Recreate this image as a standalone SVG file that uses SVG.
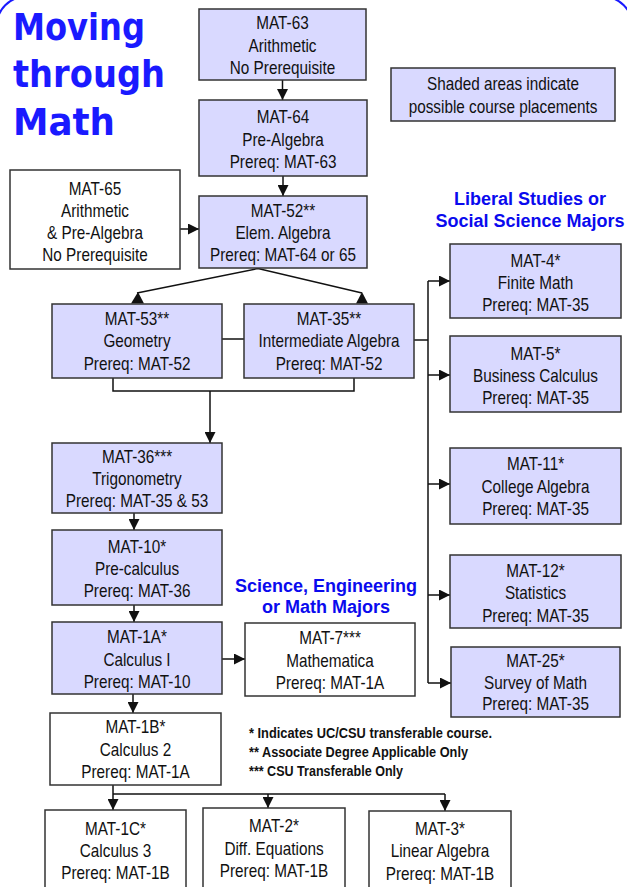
<svg xmlns="http://www.w3.org/2000/svg" width="627" height="887" viewBox="0 0 627 887">
<defs>
<marker id="ah" markerUnits="userSpaceOnUse" markerWidth="11" markerHeight="11" refX="11" refY="5.5" orient="auto">
<path d="M0,0 L11,5.5 L0,11 Z" fill="#111"/>
</marker>
<style>
.box{fill:#d9d9ff;stroke:#333;stroke-width:1.5}
.wbox{fill:#fff;stroke:#333;stroke-width:1.5}
.t{font-family:"Liberation Sans",Arial,sans-serif;font-size:18px;fill:#111;text-anchor:middle}
.c{fill:none;stroke:#111;stroke-width:1.5}
.ca{fill:none;stroke:#111;stroke-width:1.5;marker-end:url(#ah)}
.title{font-family:"DejaVu Sans","Liberation Sans",sans-serif;font-weight:bold;font-size:38px;fill:#1a1aff}
.hd{font-family:"Liberation Sans",Arial,sans-serif;font-weight:bold;font-size:18px;fill:#0a0aee;text-anchor:middle}
.fn{font-family:"Liberation Sans",Arial,sans-serif;font-weight:bold;font-size:14px;fill:#111}
</style>
</defs>
<rect width="627" height="887" fill="#fff"/>
<rect x="-3" y="-3" width="635" height="930" rx="28" fill="none" stroke="#1a1aff" stroke-width="2"/>

<g id="title">
<text class="title" x="13" y="40" textLength="132" lengthAdjust="spacingAndGlyphs">Moving</text>
<text class="title" x="13" y="87" textLength="152" lengthAdjust="spacingAndGlyphs">through</text>
<text class="title" x="13" y="135" textLength="102" lengthAdjust="spacingAndGlyphs">Math</text>
</g>

<g id="connectors">
<line class="ca" x1="282.5" y1="80" x2="282.5" y2="100"/>
<line class="ca" x1="283" y1="176" x2="283" y2="196"/>
<line class="ca" x1="180" y1="229" x2="199" y2="229"/>
<polyline class="c" points="137,293 258,268.5 362,293"/>
<polygon points="131,303.5 144,303.5 138,292" fill="#111"/>
<polygon points="356,303.5 368,303.5 362,292" fill="#111"/>
<line class="c" x1="222" y1="339" x2="244" y2="339"/>
<line class="c" x1="414" y1="340" x2="428" y2="340"/>
<line class="c" x1="428" y1="281" x2="428" y2="683"/>
<line class="ca" x1="428" y1="281" x2="450" y2="281"/>
<line class="ca" x1="428" y1="375" x2="450" y2="375"/>
<line class="ca" x1="428" y1="484" x2="450" y2="484"/>
<line class="ca" x1="428" y1="595" x2="450" y2="595"/>
<line class="ca" x1="428" y1="683" x2="451" y2="683"/>
<polyline class="c" points="113,378 113,391 354,391 354,378"/>
<line class="ca" x1="210" y1="391" x2="210" y2="443"/>
<line class="ca" x1="134" y1="513" x2="134" y2="530"/>
<line class="ca" x1="134" y1="605" x2="134" y2="622"/>
<line class="ca" x1="222" y1="659" x2="245" y2="659"/>
<line class="ca" x1="133" y1="694" x2="133" y2="713"/>
<line class="ca" x1="113" y1="785" x2="113" y2="810"/>
<line class="c" x1="113" y1="794" x2="445" y2="794"/>
<line class="ca" x1="268" y1="794" x2="268" y2="808"/>
<line class="ca" x1="445" y1="794" x2="445" y2="811"/>
</g>

<g id="mat63"><rect class="box" x="199" y="9" width="167" height="71"/>
<g transform="translate(282.5 0) scale(0.85 1)"><text class="t" x="0" y="29">MAT-63</text><text class="t" x="0" y="52">Arithmetic</text><text class="t" x="0" y="74">No Prerequisite</text></g></g>

<g id="mat64"><rect class="box" x="199" y="100" width="168" height="76"/>
<g transform="translate(283 0) scale(0.85 1)"><text class="t" x="0" y="123">MAT-64</text><text class="t" x="0" y="146">Pre-Algebra</text><text class="t" x="0" y="168">Prereq: MAT-63</text></g></g>

<g id="mat52"><rect class="box" x="199" y="196" width="168" height="72"/>
<g transform="translate(283 0) scale(0.85 1)"><text class="t" x="0" y="217">MAT-52**</text><text class="t" x="0" y="239">Elem. Algebra</text><text class="t" x="0" y="261">Prereq: MAT-64 or 65</text></g></g>

<g id="mat65"><rect class="wbox" x="10" y="170" width="170" height="99"/>
<g transform="translate(95 0) scale(0.85 1)"><text class="t" x="0" y="195">MAT-65</text><text class="t" x="0" y="217">Arithmetic</text><text class="t" x="0" y="239">&amp; Pre-Algebra</text><text class="t" x="0" y="261">No Prerequisite</text></g></g>

<g id="legend"><rect class="box" x="391" y="68" width="224" height="53"/>
<g transform="translate(503 0) scale(0.85 1)"><text class="t" x="0" y="90">Shaded areas indicate</text><text class="t" x="0" y="113">possible course placements</text></g></g>

<g id="heading-liberal">
<text class="hd" x="530" y="205">Liberal Studies or</text>
<text class="hd" x="530" y="227">Social Science Majors</text>
</g>

<g id="mat53"><rect class="box" x="52" y="304" width="170" height="74"/>
<g transform="translate(137 0) scale(0.85 1)"><text class="t" x="0" y="325">MAT-53**</text><text class="t" x="0" y="347">Geometry</text><text class="t" x="0" y="370">Prereq: MAT-52</text></g></g>

<g id="mat35"><rect class="box" x="244" y="304" width="170" height="74"/>
<g transform="translate(329 0) scale(0.85 1)"><text class="t" x="0" y="325">MAT-35**</text><text class="t" x="0" y="347">Intermediate Algebra</text><text class="t" x="0" y="370">Prereq: MAT-52</text></g></g>

<g id="mat36"><rect class="box" x="52" y="443" width="170" height="70"/>
<g transform="translate(137 0) scale(0.85 1)"><text class="t" x="0" y="463">MAT-36***</text><text class="t" x="0" y="485">Trigonometry</text><text class="t" x="0" y="507">Prereq: MAT-35 &amp; 53</text></g></g>

<g id="mat10"><rect class="box" x="52" y="530" width="170" height="75"/>
<g transform="translate(137 0) scale(0.85 1)"><text class="t" x="0" y="553">MAT-10*</text><text class="t" x="0" y="575">Pre-calculus</text><text class="t" x="0" y="597">Prereq: MAT-36</text></g></g>

<g id="heading-science">
<text class="hd" x="326" y="592">Science, Engineering</text>
<text class="hd" x="326" y="613">or Math Majors</text>
</g>

<g id="mat1a"><rect class="box" x="52" y="622" width="170" height="72"/>
<g transform="translate(137 0) scale(0.85 1)"><text class="t" x="0" y="643">MAT-1A*</text><text class="t" x="0" y="666">Calculus I</text><text class="t" x="0" y="688">Prereq: MAT-10</text></g></g>

<g id="mat7"><rect class="wbox" x="245" y="623" width="170" height="73"/>
<g transform="translate(330 0) scale(0.85 1)"><text class="t" x="0" y="644">MAT-7***</text><text class="t" x="0" y="667">Mathematica</text><text class="t" x="0" y="689">Prereq: MAT-1A</text></g></g>

<g id="mat1b"><rect class="wbox" x="50" y="713" width="171" height="72"/>
<g transform="translate(135.5 0) scale(0.85 1)"><text class="t" x="0" y="733">MAT-1B*</text><text class="t" x="0" y="756">Calculus 2</text><text class="t" x="0" y="778">Prereq: MAT-1A</text></g></g>

<g id="footnotes">
<text class="fn" x="249" y="738" textLength="243" lengthAdjust="spacingAndGlyphs">* Indicates UC/CSU transferable course.</text>
<text class="fn" x="249" y="757" textLength="219" lengthAdjust="spacingAndGlyphs">** Associate Degree Applicable Only</text>
<text class="fn" x="249" y="776" textLength="154" lengthAdjust="spacingAndGlyphs">*** CSU Transferable Only</text>
</g>

<g id="mat1c"><rect class="wbox" x="45" y="810" width="141" height="95"/>
<g transform="translate(115.5 0) scale(0.85 1)"><text class="t" x="0" y="835">MAT-1C*</text><text class="t" x="0" y="857">Calculus 3</text><text class="t" x="0" y="879">Prereq: MAT-1B</text></g></g>

<g id="mat2"><rect class="wbox" x="203" y="808" width="142" height="95"/>
<g transform="translate(274 0) scale(0.85 1)"><text class="t" x="0" y="832">MAT-2*</text><text class="t" x="0" y="855">Diff. Equations</text><text class="t" x="0" y="877">Prereq: MAT-1B</text></g></g>

<g id="mat3"><rect class="wbox" x="369" y="811" width="142" height="95"/>
<g transform="translate(440 0) scale(0.85 1)"><text class="t" x="0" y="835">MAT-3*</text><text class="t" x="0" y="857">Linear Algebra</text><text class="t" x="0" y="880">Prereq: MAT-1B</text></g></g>

<g id="mat4"><rect class="box" x="450" y="244" width="171" height="74"/>
<g transform="translate(535.5 0) scale(0.85 1)"><text class="t" x="0" y="267">MAT-4*</text><text class="t" x="0" y="289">Finite Math</text><text class="t" x="0" y="311">Prereq: MAT-35</text></g></g>

<g id="mat5"><rect class="box" x="450" y="336" width="171" height="76"/>
<g transform="translate(535.5 0) scale(0.85 1)"><text class="t" x="0" y="360">MAT-5*</text><text class="t" x="0" y="382">Business Calculus</text><text class="t" x="0" y="404">Prereq: MAT-35</text></g></g>

<g id="mat11"><rect class="box" x="450" y="448" width="171" height="76"/>
<g transform="translate(535.5 0) scale(0.85 1)"><text class="t" x="0" y="470">MAT-11*</text><text class="t" x="0" y="493">College Algebra</text><text class="t" x="0" y="515">Prereq: MAT-35</text></g></g>

<g id="mat12"><rect class="box" x="450" y="555" width="171" height="73"/>
<g transform="translate(535.5 0) scale(0.85 1)"><text class="t" x="0" y="577">MAT-12*</text><text class="t" x="0" y="599">Statistics</text><text class="t" x="0" y="622">Prereq: MAT-35</text></g></g>

<g id="mat25"><rect class="box" x="451" y="647" width="169" height="70"/>
<g transform="translate(535.5 0) scale(0.85 1)"><text class="t" x="0" y="667">MAT-25*</text><text class="t" x="0" y="689">Survey of Math</text><text class="t" x="0" y="710">Prereq: MAT-35</text></g></g>
</svg>
